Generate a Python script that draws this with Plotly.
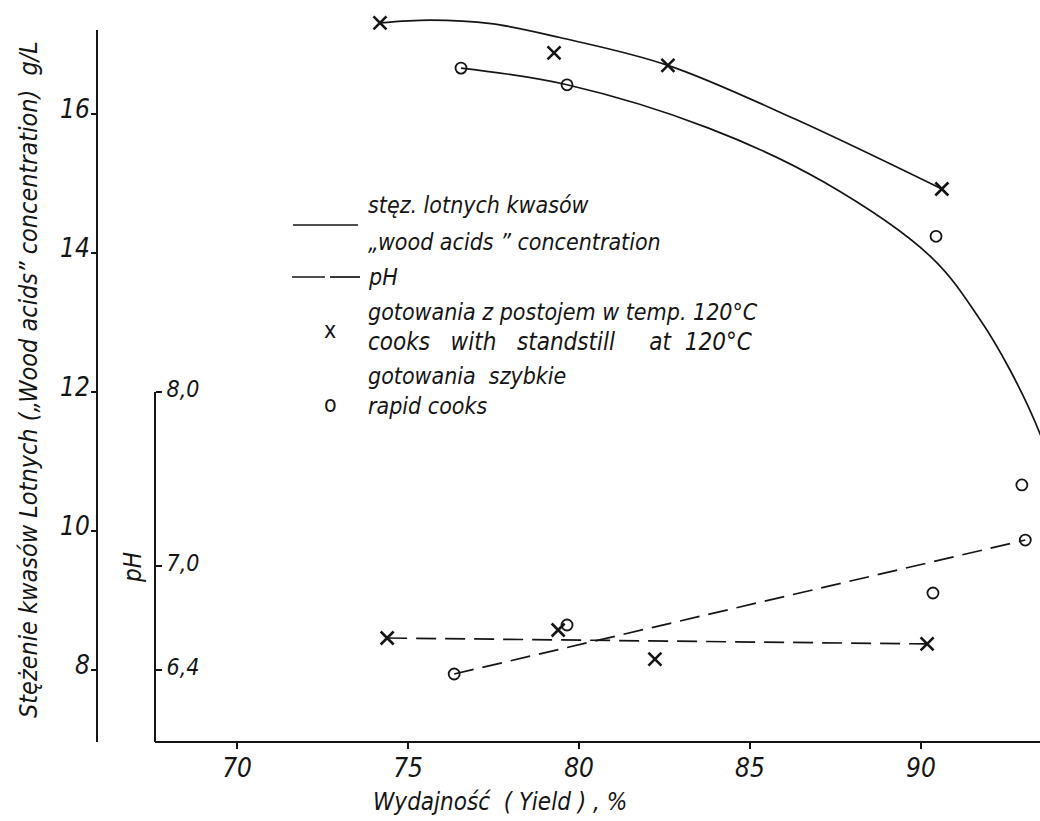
import plotly.graph_objects as go

# ---- measured values -------------------------------------------------------
# volatile ("wood") acid concentration, g/L, versus pulp yield, %
standstill_yield = [74.18, 79.27, 82.60, 90.61]
standstill_conc = [17.31, 16.88, 16.70, 14.92]
rapid_yield = [76.55, 79.65, 90.44]
rapid_conc = [16.66, 16.42, 14.24]

# pH of the spent liquor versus pulp yield, %
standstill_ph_yield = [74.39, 79.39, 82.22, 90.18]
standstill_ph = [6.584, 6.63, 6.463, 6.55]
rapid_ph_yield = [76.35, 79.65, 90.35, 92.95, 93.05]
rapid_ph = [6.377, 6.659, 6.843, 7.465, 7.148]

# hand-drawn trend curves
standstill_curve_x = [74.18, 75.64, 77.43, 79.44, 82.60, 86.30, 90.61]
standstill_curve_y = [17.31, 17.35, 17.30, 17.10, 16.70, 15.93, 14.92]
rapid_curve_x = [76.55, 79.65, 83.77, 87.16, 90.32, 91.73, 92.60, 93.48, 93.90]
rapid_curve_y = [16.66, 16.42, 15.80, 15.02, 13.93, 13.04, 12.32, 11.40, 10.80]
standstill_ph_line_x = [74.39, 90.18]
standstill_ph_line_y = [6.584, 6.55]
rapid_ph_line_x = [76.35, 93.05]
rapid_ph_line_y = [6.377, 7.148]

# axes
x_ticks = [70, 75, 80, 85, 90]
conc_ticks = [8, 10, 12, 14, 16]
ph_ticks = [6.4, 7.0, 8.0]
ph_tick_text = ["6,4", "7,0", "8,0"]

X_RANGE = [65.906, 93.48]
CONC_RANGE = [6.964, 17.568]
# pH scale: 6.4 sits on 8 g/L, 8.0 on 12 g/L
PH_PER_CONC = 1 / 2.5
PH_RANGE = [6.4 + (CONC_RANGE[0] - 8) * PH_PER_CONC,
            6.4 + (CONC_RANGE[1] - 8) * PH_PER_CONC]

# ---- page geometry ---------------------------------------------------------
W, H = 1040, 821
ML, MR, MT, MB = 97, 0, 5, 79
PW, PH_ = W - ML - MR, H - MT - MB


def px(xp):
    return (xp - ML) / PW


def py(yp):
    return (H - MB - yp) / PH_


FONT = "DejaVu Sans Condensed, Liberation Sans Narrow, DejaVu Sans, sans-serif"
INK = "#151515"

fig = go.Figure()

line_solid = dict(color=INK, width=1.7, shape="spline", smoothing=1.0)
line_dash = dict(color=INK, width=1.7, dash="20px,9px")

fig.add_trace(go.Scatter(x=standstill_curve_x, y=standstill_curve_y, mode="lines",
                         line=line_solid, hoverinfo="skip"))
fig.add_trace(go.Scatter(x=rapid_curve_x, y=rapid_curve_y, mode="lines",
                         line=line_solid, hoverinfo="skip"))
fig.add_trace(go.Scatter(x=standstill_ph_line_x, y=standstill_ph_line_y, mode="lines",
                         line=line_dash, yaxis="y2", hoverinfo="skip"))
fig.add_trace(go.Scatter(x=rapid_ph_line_x, y=rapid_ph_line_y, mode="lines",
                         line=line_dash, yaxis="y2", hoverinfo="skip"))

x_marker = dict(symbol="x-thin", size=13, line=dict(color=INK, width=2.6), color=INK)
o_marker = dict(symbol="circle-open", size=11, line=dict(color=INK, width=1.8), color=INK)

fig.add_trace(go.Scatter(x=standstill_yield, y=standstill_conc, mode="markers",
                         marker=x_marker, name="cooks with standstill"))
fig.add_trace(go.Scatter(x=rapid_yield, y=rapid_conc, mode="markers",
                         marker=o_marker, name="rapid cooks"))
fig.add_trace(go.Scatter(x=standstill_ph_yield, y=standstill_ph, mode="markers",
                         marker=x_marker, yaxis="y2", name="pH standstill"))
fig.add_trace(go.Scatter(x=rapid_ph_yield, y=rapid_ph, mode="markers",
                         marker=o_marker, yaxis="y2", name="pH rapid"))

tick_font = dict(family=FONT, size=26, color=INK, style="italic")

fig.update_layout(
    width=W, height=H,
    margin=dict(l=ML, r=MR, t=MT, b=MB),
    paper_bgcolor="white", plot_bgcolor="white",
    showlegend=False,
    xaxis=dict(range=X_RANGE, tickvals=x_ticks, ticks="outside", ticklen=6,
               tickwidth=1.5, tickcolor=INK, showgrid=False, zeroline=False,
               showline=False, tickfont=tick_font, ticklabelstandoff=-3),
    yaxis=dict(range=CONC_RANGE, tickvals=conc_ticks, ticks="outside", ticklen=5,
               tickwidth=1.5, tickcolor=INK, showgrid=False, zeroline=False,
               showline=False, tickfont=tick_font, ticklabelstandoff=-4,
               ticklabelshift=-5),
    yaxis2=dict(range=PH_RANGE, overlaying="y", anchor="free", position=px(155),
                side="right", tickvals=ph_ticks, ticktext=ph_tick_text,
                ticks="outside", ticklen=6, tickwidth=1.5, tickcolor=INK,
                showgrid=False, zeroline=False, showline=False, ticklabelshift=-3,
                tickfont=dict(family=FONT, size=23, color=INK, style="italic")),
)

# axis lines with their drawn extents
fig.add_shape(type="line", xref="paper", yref="y", x0=0, x1=0,
              y0=CONC_RANGE[0] - 0.05, y1=17.21, line=dict(color=INK, width=2))
fig.add_shape(type="line", xref="paper", yref="y2", x0=px(155), x1=px(155),
              y0=PH_RANGE[0], y1=8.0, line=dict(color=INK, width=2))
fig.add_shape(type="line", xref="paper", yref="paper", x0=px(155), x1=1,
              y0=0, y1=0, line=dict(color=INK, width=2))

# key
fig.add_shape(type="line", xref="paper", yref="paper", x0=px(293), x1=px(358),
              y0=py(225), y1=py(225), line=dict(color=INK, width=1.7))
fig.add_shape(type="line", xref="paper", yref="paper", x0=px(292), x1=px(325),
              y0=py(277), y1=py(277), line=dict(color=INK, width=1.7))
fig.add_shape(type="line", xref="paper", yref="paper", x0=px(330), x1=px(360),
              y0=py(277), y1=py(277), line=dict(color=INK, width=1.7))

key_font = dict(family=FONT, size=23, color=INK)
key_lines = [
    (205, "<i>stęz. lotnych kwasów</i>", 23),
    (242, "<i>„wood acids ” concentration</i>", 23),
    (277, "<i>pH</i>", 23),
    (312, "<i>gotowania z postojem w temp. 120°C</i>", 23),
    (342, "<i>cooks   with   standstill     at  120°C</i>", 24),
    (376, "<i>gotowania  szybkie</i>", 23),
    (406, "<i>rapid cooks</i>", 23),
]
for yy, txt, size in key_lines:
    fig.add_annotation(xref="paper", yref="paper", x=px(366), y=py(yy), text=txt,
                       showarrow=False, xanchor="left", yanchor="middle",
                       font=dict(family=FONT, size=size, color=INK))
fig.add_annotation(xref="paper", yref="paper", x=px(330), y=py(330), text="x",
                   showarrow=False, xanchor="center", yanchor="middle", font=key_font)
fig.add_annotation(xref="paper", yref="paper", x=px(330), y=py(404), text="o",
                   showarrow=False, xanchor="center", yanchor="middle", font=key_font)

# axis titles
fig.add_annotation(xref="paper", yref="paper", x=px(500), y=py(802),
                   text="<i>Wydajność  ( Yield ) , %</i>", showarrow=False,
                   xanchor="center", yanchor="middle",
                   font=dict(family=FONT, size=24, color=INK))
fig.add_annotation(xref="paper", yref="paper", x=px(28), y=py(380), textangle=-90,
                   text="<i>Stężenie kwasów Lotnych („Wood acids” concentration)  g/L</i>",
                   showarrow=False, xanchor="center", yanchor="middle",
                   font=dict(family=FONT, size=25, color=INK))
fig.add_annotation(xref="paper", yref="paper", x=px(133), y=py(568), textangle=-90,
                   text="<i>pH</i>", showarrow=False, xanchor="center", yanchor="middle",
                   font=dict(family=FONT, size=24, color=INK))

fig.write_html("out.html")
